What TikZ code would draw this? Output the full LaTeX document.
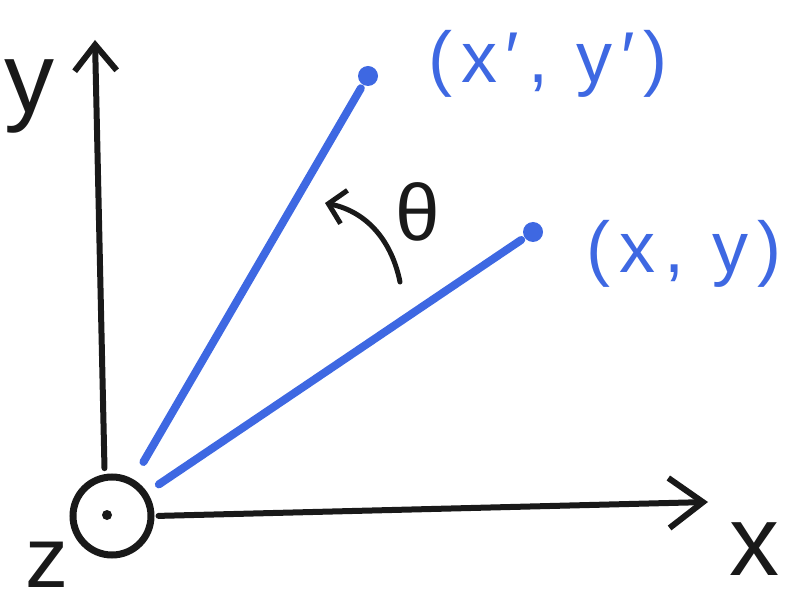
\documentclass[tikz,border=0pt]{standalone}
\usepackage{fontspec}
\setmainfont{Liberation Sans}
\newfontfamily\hand[LetterSpace=12]{Liberation Sans}
\usetikzlibrary{arrows.meta}
\definecolor{sketchblue}{RGB}{62,104,226}
\definecolor{ink}{RGB}{25,25,25}
\begin{document}
\begin{tikzpicture}[x=1pt,y=-1pt,
  axis/.style={draw=ink, line width=6pt, line cap=round},
  ray/.style={draw=sketchblue, line width=8pt, line cap=round},
  tipdot/.style={circle, fill=sketchblue, inner sep=0pt, minimum size=20pt},
  lbl/.style={inner sep=0pt, text=ink},
  bluelbl/.style={inner sep=0pt, text=sketchblue, font=\hand\fontsize{72}{72}\selectfont},
  ]
\useasboundingbox (0,0) rectangle (800,609);
% origin (z axis out of page)
\node[circle, draw=ink, line width=7pt, minimum size=78pt, inner sep=0pt] (O) at (112,516) {};
\node[circle, fill=ink, inner sep=0pt, minimum size=10pt] (Odot) at (107,515) {};
% axes
\coordinate (ytip) at (95,40);
\coordinate (xtip) at (708,502);
\draw[axis, shorten <=6pt, -{Straight Barb[length=26pt,width=42pt,line width=6pt]}] (O.100) -- (ytip);
\draw[axis, shorten <=4pt, -{Straight Barb[length=34pt,width=50pt,line width=6pt]}] (O.east) -- (xtip);
% blue rays
\node[tipdot] (P) at (368,76) {};
\node[tipdot] (Q) at (533,232) {};
\draw[ray, shorten <=20pt, shorten >=4pt] (O) -- (P);
\draw[ray, shorten <=14pt, shorten >=4pt] (O) -- (Q);
% rotation arrow
\coordinate (thTail) at (400,282);
\coordinate (thTip) at (325,203);
\draw[axis, line width=5pt, -{Straight Barb[length=16pt,width=34pt,line width=5pt]}]
  (thTail) .. controls (392,242) and (368,212) .. (thTip);
% labels
\node[lbl, font=\fontsize{80}{80}\selectfont] (theta) at (418,212) {θ};
\node[lbl, font=\fontsize{100}{100}\selectfont] (ylab) at (30,96) {y};
\node[lbl, font=\fontsize{100}{100}\selectfont] (xlab) at (754,549) {x};
\node[lbl, font=\fontsize{86}{86}\selectfont] (zlab) at (47,565) {z};
\node[bluelbl] (plab) at (548,64) {(x′, y′)};
\node[bluelbl] (qlab) at (684,254) {(x, y)};
\end{tikzpicture}
\end{document}
